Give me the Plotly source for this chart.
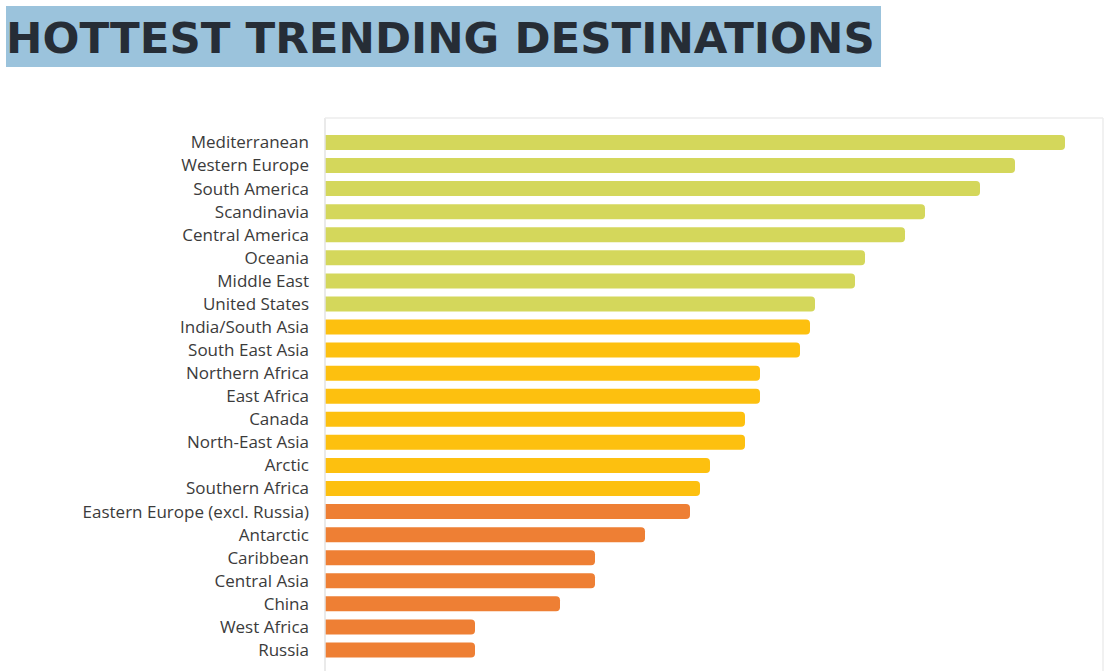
import plotly.graph_objects as go

destinations = [
    "Mediterranean", "Western Europe", "South America", "Scandinavia", "Central America",
    "Oceania", "Middle East", "United States", "India/South Asia", "South East Asia",
    "Northern Africa", "East Africa", "Canada", "North-East Asia", "Arctic",
    "Southern Africa", "Eastern Europe (excl. Russia)", "Antarctic", "Caribbean",
    "Central Asia", "China", "West Africa", "Russia",
]
scores = [148, 138, 131, 120, 116, 108, 106, 98, 97, 95, 87, 87, 84, 84, 77, 75, 73, 64, 54, 54, 47, 30, 30]
tiers = ["top"] * 8 + ["mid"] * 8 + ["low"] * 7
tier_colors = {"top": "#d4d75b", "mid": "#fdc00f", "low": "#ee7f34"}

W, H = 1107, 671
L, R, T, B = 325, 4, 118, 0
pw, ph = W - L - R, H - T - B

def px_x(x):
    return (x - L) / pw

def px_y(y):
    return 1 - (y - T) / ph

fig = go.Figure(go.Bar(
    x=scores, y=destinations, orientation="h",
    marker=dict(color=[tier_colors[t] for t in tiers], line=dict(width=0), cornerradius=4),
    width=0.65, hoverinfo="x+y",
))

fig.update_layout(
    width=W, height=H,
    margin=dict(l=L, r=R, t=T, b=B),
    paper_bgcolor="white", plot_bgcolor="white",
    showlegend=False,
    xaxis=dict(range=[0, 155.6], showticklabels=False, showgrid=False, zeroline=False, showline=False),
    yaxis=dict(categoryorder="array", categoryarray=destinations, range=[22.91, -1.06],
               showgrid=False, zeroline=False, showline=False, ticks="",
               ticklabelstandoff=15,
               tickfont=dict(family="Open Sans, DejaVu Sans, sans-serif", size=17, color="#3b3b3b")),
    shapes=[
        dict(type="rect", xref="paper", yref="paper", x0=px_x(6), x1=px_x(881), y0=px_y(67), y1=px_y(6),
             fillcolor="#9bc3dc", line=dict(width=0), layer="below"),
        dict(type="line", xref="paper", yref="paper", x0=px_x(325), x1=px_x(325), y0=0, y1=1,
             line=dict(color="#e3e3e3", width=1.5)),
        dict(type="line", xref="paper", yref="paper", x0=px_x(325), x1=1, y0=1, y1=1,
             line=dict(color="#ededed", width=1.5)),
        dict(type="line", xref="paper", yref="paper", x0=1, x1=1, y0=0, y1=1,
             line=dict(color="#ededed", width=1.5)),
    ],
    annotations=[
        dict(text="HOTTEST TRENDING DESTINATIONS", xref="paper", yref="paper",
             x=px_x(4), y=px_y(38), xanchor="left", yanchor="middle", showarrow=False,
             font=dict(family="DejaVu Sans", size=43.5, color="#262d36", weight="bold")),
    ],
)

fig.write_html("out.html")
